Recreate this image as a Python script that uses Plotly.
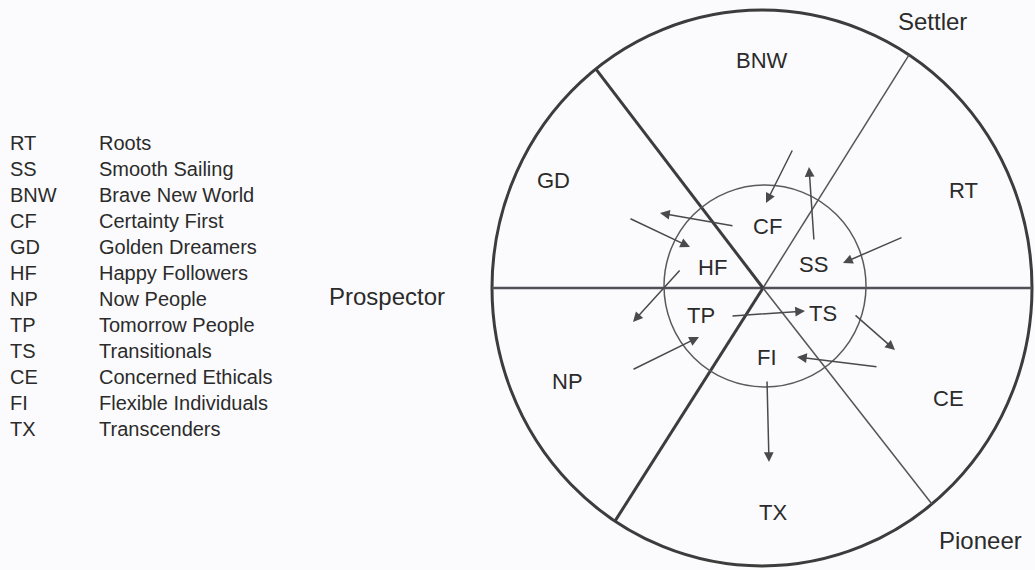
import math
import plotly.graph_objects as go

# ---- data ----
legend_codes = ["RT", "SS", "BNW", "CF", "GD", "HF", "NP", "TP", "TS", "CE", "FI", "TX"]
legend_names = ["Roots", "Smooth Sailing", "Brave New World", "Certainty First",
                "Golden Dreamers", "Happy Followers", "Now People", "Tomorrow People",
                "Transitionals", "Concerned Ethicals", "Flexible Individuals", "Transcenders"]

outer_labels = ["BNW", "RT", "CE", "TX", "NP", "GD"]
inner_labels = ["CF", "SS", "TS", "FI", "TP", "HF"]
orientation_labels = ["Settler", "Prospector", "Pioneer"]

# divider angles (degrees, counter-clockwise from east) and whether drawn bold
divider_angles = [57, 128, 237, 309]
divider_bold = [False, True, True, False]

# ---- layout (pixel space) ----
W, H = 1035, 570
CX, CY = 762, 288
RX, RY = 270, 278
ICX, ICY, IR = 765, 286, 101

outer_pos = [(762, 60), (963, 190), (948, 398), (773, 512), (567, 381), (553, 180)]
inner_pos = [(767, 226), (813, 264), (823, 313), (767, 357), (701, 315), (712, 267)]
orient_pos = [(932, 21), (387, 296), (980, 540)]

arrow_tail = [(793, 149), (814, 241), (734, 226), (629, 218), (903, 237), (681, 269),
              (731, 316), (854, 314), (632, 370), (878, 367), (767, 380)]
arrow_head = [(766, 203), (809, 167), (660, 213), (690, 247), (843, 263), (633, 322),
              (805, 311), (895, 350), (699, 337), (797, 357), (769, 462)]

legend_y0, legend_dy = 143, 26
legend_x_code, legend_x_name = 8, 97

TEXT = "#2b2b2b"
LINE = "#3c3c3c"
FONT = "Liberation Sans, Arial, sans-serif"
SEG_SIZE = 22
ORIENT_SIZE = 24
LEG_SIZE = 20

fig = go.Figure()
fig.add_trace(go.Scatter(x=[0, W], y=[0, H], mode="markers",
                         marker=dict(opacity=0), hoverinfo="skip", showlegend=False))

shapes = []
shapes.append(dict(type="circle", xref="x", yref="y", x0=CX - RX, x1=CX + RX,
                   y0=CY - RY, y1=CY + RY, line=dict(color=LINE, width=3)))
shapes.append(dict(type="line", xref="x", yref="y", x0=CX - RX, x1=CX + RX,
                   y0=CY, y1=CY, line=dict(color="#505058", width=2.5)))
for ang, bold in zip(divider_angles, divider_bold):
    a = math.radians(ang)
    x1 = CX + RX * math.cos(a)
    y1 = CY - RY * math.sin(a)
    shapes.append(dict(type="line", xref="x", yref="y", x0=CX + 1, y0=CY, x1=x1, y1=y1,
                       line=dict(color=LINE if bold else "#555555", width=3 if bold else 1.5)))
shapes.append(dict(type="circle", xref="x", yref="y", x0=ICX - IR, x1=ICX + IR,
                   y0=ICY - IR, y1=ICY + IR, line=dict(color="#5a5a5a", width=1.5)))

ann = []
for t, (x, y) in zip(outer_labels + inner_labels, outer_pos + inner_pos):
    ann.append(dict(x=x, y=y, text=t, showarrow=False, xanchor="center", yanchor="middle",
                    font=dict(size=SEG_SIZE, color=TEXT, family=FONT)))
for t, (x, y) in zip(orientation_labels, orient_pos):
    ann.append(dict(x=x, y=y, text=t, showarrow=False, xanchor="center", yanchor="middle",
                    font=dict(size=ORIENT_SIZE, color=TEXT, family=FONT)))
for i, (c, n) in enumerate(zip(legend_codes, legend_names)):
    y = legend_y0 + i * legend_dy
    ann.append(dict(x=legend_x_code, y=y, text=c, showarrow=False, xanchor="left",
                    yanchor="middle", font=dict(size=LEG_SIZE, color=TEXT, family=FONT)))
    ann.append(dict(x=legend_x_name, y=y, text=n, showarrow=False, xanchor="left",
                    yanchor="middle", font=dict(size=LEG_SIZE, color=TEXT, family=FONT)))
for (tx, ty), (hx, hy) in zip(arrow_tail, arrow_head):
    ann.append(dict(x=hx, y=hy, ax=tx, ay=ty, xref="x", yref="y", axref="x", ayref="y",
                    text="", showarrow=True, arrowhead=2, arrowsize=1.3, arrowwidth=1.5,
                    arrowcolor="#4a4a4a", standoff=0, startstandoff=0))

fig.update_layout(
    width=W, height=H, margin=dict(l=0, r=0, t=0, b=0),
    paper_bgcolor="#fbfbfd", plot_bgcolor="#fbfbfd",
    xaxis=dict(range=[0, W], visible=False, fixedrange=True),
    yaxis=dict(range=[H, 0], visible=False, fixedrange=True),
    shapes=shapes, annotations=ann, showlegend=False,
)
fig.write_html("out.html", config={"displayModeBar": False, "staticPlot": True})

# remove the browser's default page margin so the figure sits at (0, 0)
with open("out.html", "r", encoding="utf-8") as f:
    html = f.read()
html = html.replace("<head>", "<head><style>html,body{margin:0;padding:0;overflow:hidden;background:#fbfbfd}</style>", 1)
with open("out.html", "w", encoding="utf-8") as f:
    f.write(html)
